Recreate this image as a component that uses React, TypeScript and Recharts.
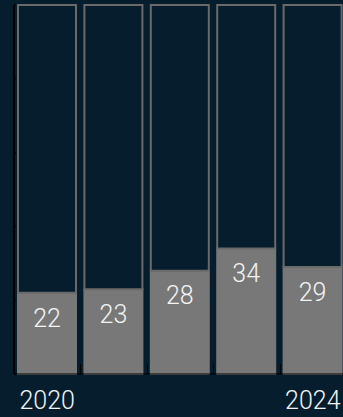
import { BarChart, Bar, XAxis, YAxis, LabelList } from 'recharts';

const years = ['2020', '2021', '2022', '2023', '2024'];
const shares = [22, 23, 28, 34, 29];
const yTicks = [0, 20, 40, 60, 80, 100];

const W = 346;
const H = 417;
const Y_AXIS_W = 14;
const BG = '#051d2d';
const GREY = '#787878';
const FONT = "Roboto, 'Liberation Sans', Arial, sans-serif";

const data = years.map((year, i) => ({
  year,
  value: shares[i],
  rest: 100 - shares[i],
}));

const halfBand = (W - Y_AXIS_W) / years.length / 2;

function YearTick(props: any) {
  const { x, y, payload, index } = props;
  const last = years.length - 1;
  const lx = Math.round(x + halfBand) + 0.5;
  return (
    <g>
      {index < last && <line x1={lx} x2={lx} y1={y} y2={y - 10} stroke="#000" strokeWidth={1} />}
      {(index === 0 || index === last) && (
        <text x={x} y={y + 35} textAnchor="middle" fill="#f4f4f4" fontSize={25} fontWeight={300} fontFamily={FONT}>
          {payload.value}
        </text>
      )}
    </g>
  );
}

export default function App() {
  return (
    <div style={{ position: 'absolute', left: 0, top: 0, width: 343, height: H, overflow: 'hidden', background: BG }}>
      <BarChart width={W} height={H} data={data} margin={{ top: 5, right: 0, left: 0, bottom: 0 }} barCategoryGap={4}>
        <XAxis
          dataKey="year"
          height={43}
          interval={0}
          tickSize={0}
          tickMargin={0}
          tickLine={false}
          axisLine={{ stroke: '#000', strokeWidth: 1 }}
          tick={<YearTick />}
        />
        <YAxis
          width={Y_AXIS_W}
          domain={[0, 100]}
          ticks={yTicks}
          tickSize={-2}
          tickFormatter={() => ''}
          tickLine={{ stroke: '#000' }}
          axisLine={{ stroke: '#000', strokeWidth: 2 }}
        />
        <Bar dataKey="value" stackId="a" fill={GREY} stroke={GREY} strokeWidth={2} isAnimationActive={false}>
          <LabelList dataKey="value" position="insideTop" offset={16} fill="#f4f4f4" fontSize={25} fontWeight={300} fontFamily={FONT} />
        </Bar>
        <Bar dataKey="rest" stackId="a" fill={BG} stroke="#6a6a6a" strokeWidth={2} isAnimationActive={false} />
      </BarChart>
    </div>
  );
}
